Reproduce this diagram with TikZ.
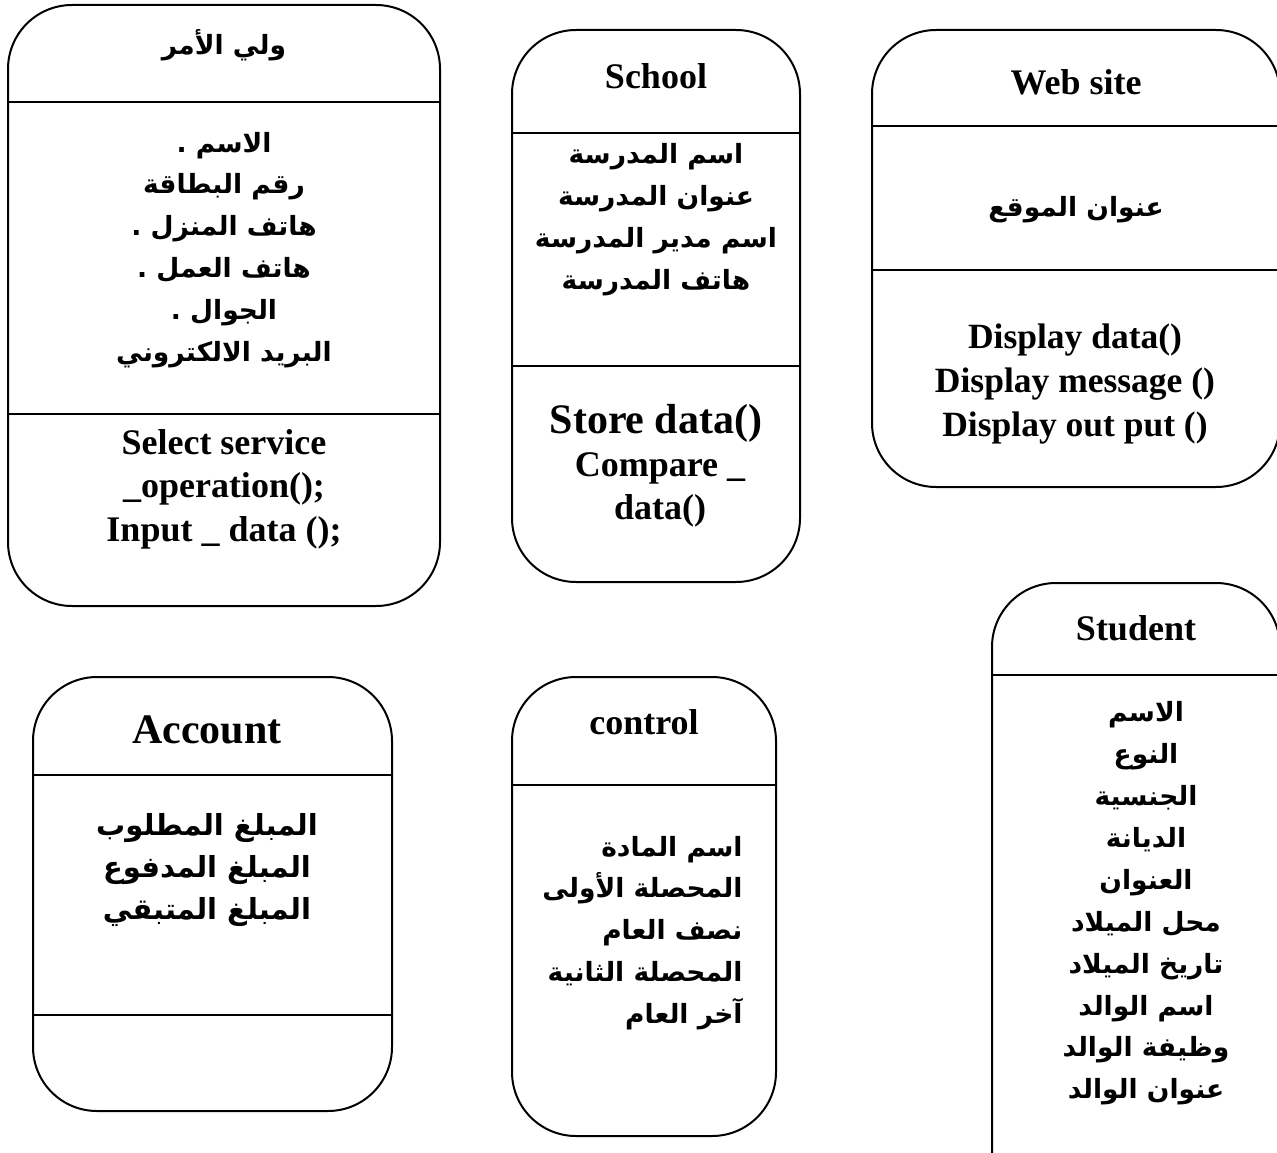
\documentclass[tikz,border=0pt]{standalone}
\usepackage{fontspec}
\setmainfont{Liberation Serif}
\newfontfamily\arabicfont[Script=Arabic]{DejaVu Sans}
\TeXXeTstate=1
\newcommand\rl[1]{\beginR #1\endR}

\tikzset{
  classbox/.style={draw, line width=2pt, rectangle, rounded corners=64pt, inner sep=0pt},
  divider/.style={line width=2pt},
  classname/.style={font=\bfseries\fontsize{36}{42}\selectfont, align=center},
  bigname/.style={font=\bfseries\fontsize{42}{48}\selectfont, align=center},
  arabic/.style={font=\arabicfont\bfseries\fontsize{26.5}{41.9}\selectfont, align=center},
  arabicbig/.style={font=\arabicfont\bfseries\fontsize{29}{42}\selectfont, align=center},
  methods/.style={font=\bfseries\fontsize{36}{43.5}\selectfont, align=center},
}

\begin{document}
\begin{tikzpicture}[x=1pt,y=-1pt]
\useasboundingbox (0,0) rectangle (1277,1153);
\clip (0,0) rectangle (1277,1153);

% --- Guardian class
\node[classbox, minimum width=432, minimum height=601] (guardian) at (224,305.5) {};
\draw[divider] (guardian.west |- 0,102) -- (guardian.east |- 0,102);
\draw[divider] (guardian.west |- 0,414) -- (guardian.east |- 0,414);
\node[arabic] (guardianName) at (224,45) {\rl{ولي الأمر}};
\node[arabic] (guardianAttr) at (224,250) {\rl{الاسم .}\\ \rl{رقم البطاقة}\\ \rl{هاتف المنزل .}\\ \rl{هاتف العمل .}\\ \rl{الجوال .}\\ \rl{البريد الالكتروني}};
\node[methods] (guardianOps) at (224,489) {Select service\\ \_operation();\\ Input \_ data ();};

% --- School class
\node[classbox, minimum width=288, minimum height=552] (school) at (656,306) {};
\draw[divider] (school.west |- 0,133) -- (school.east |- 0,133);
\draw[divider] (school.west |- 0,366) -- (school.east |- 0,366);
\node[classname] (schoolName) at (656,76) {School};
\node[arabic] (schoolAttr) at (656,220) {\rl{اسم المدرسة}\\ \rl{عنوان المدرسة}\\ \rl{اسم مدير المدرسة}\\ \rl{هاتف المدرسة}};
\node[bigname] (schoolOpA) at (656,423) {Store data()};
\node[methods] (schoolOpB) at (660,490) {Compare \_\\ data()};

% --- Web site class
\node[classbox, minimum width=408, minimum height=457] (web) at (1076,258.5) {};
\draw[divider] (web.west |- 0,126) -- (web.east |- 0,126);
\draw[divider] (web.west |- 0,270) -- (web.east |- 0,270);
\node[classname] (webName) at (1076,82) {Web site};
\node[arabic] (webAttr) at (1076,210) {\rl{عنوان الموقع}};
\node[methods, font=\bfseries\fontsize{35.5}{44}\selectfont] (webOps) at (1075,384) {Display data()\\ Display message ()\\ Display out put ()};

% --- Student class
\node[classbox, minimum width=288, minimum height=640] (student) at (1136,903) {};
\draw[divider] (student.west |- 0,675) -- (student.east |- 0,675);
\node[classname] (studentName) at (1136,628) {Student};
\node[arabic] (studentAttr) at (1146,903.5) {\rl{الاسم}\\ \rl{النوع}\\ \rl{الجنسية}\\ \rl{الديانة}\\ \rl{العنوان}\\ \rl{محل الميلاد}\\ \rl{تاريخ الميلاد}\\ \rl{اسم الوالد}\\ \rl{وظيفة الوالد}\\ \rl{عنوان الوالد}};

% --- Control class
\node[classbox, minimum width=264, minimum height=459] (control) at (644,906.5) {};
\draw[divider] (control.west |- 0,785) -- (control.east |- 0,785);
\node[classname] (controlName) at (644,722) {control};
\node[arabic, align=right, anchor=east] (controlAttr) at (746,933) {\rl{اسم المادة}\\ \rl{المحصلة الأولى}\\ \rl{نصف العام}\\ \rl{المحصلة الثانية}\\ \rl{آخر العام}};

% --- Account class
\node[classbox, minimum width=359, minimum height=434] (account) at (212.5,894) {};
\draw[divider] (account.west |- 0,775) -- (account.east |- 0,775);
\draw[divider] (account.west |- 0,1015) -- (account.east |- 0,1015);
\node[bigname] (accountName) at (207,730) {Account};
\node[arabicbig] (accountAttr) at (207,870) {\rl{المبلغ المطلوب}\\ \rl{المبلغ المدفوع}\\ \rl{المبلغ المتبقي}};

\end{tikzpicture}
\end{document}
